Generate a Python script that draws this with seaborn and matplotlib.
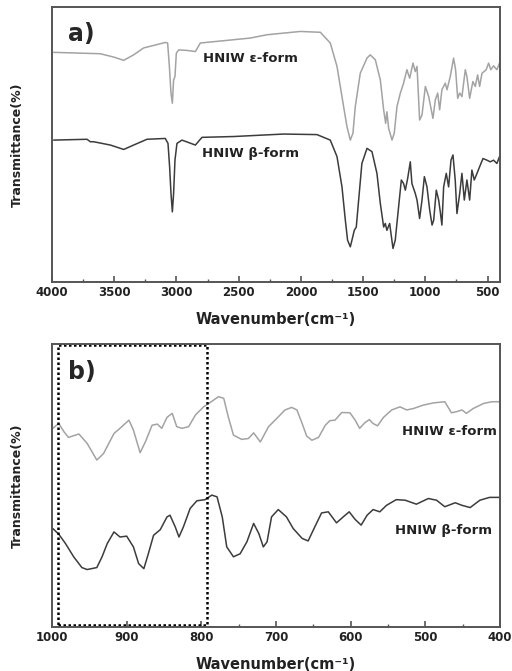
import numpy as np
import pandas as pd
import matplotlib
matplotlib.use("Agg")
import matplotlib.pyplot as plt
from matplotlib.ticker import MultipleLocator
import seaborn as sns

sns.set_style("ticks")
plt.rcParams['font.family'] = ['DejaVu Sans']

# panel a: full range spectra (wavenumber, transmittance a.u.)
wn_eps_a = [3987, 3612, 3505, 3424, 3344, 3264, 3090, 3071, 3057, 3044, 3033, 3023, 3012, 3001, 2982, 2915, 2848, 2808,
            2674, 2407, 2273, 2005, 1844, 1764, 1710, 1657, 1630, 1603, 1582, 1563, 1523, 1469, 1443, 1402, 1362, 1335,
            1319, 1309, 1295, 1268, 1250, 1228, 1201, 1175, 1148, 1126, 1099, 1081, 1067, 1046, 1027, 1000, 973, 939,
            920, 901, 885, 867, 840, 826, 800, 773, 757, 740, 724, 706, 679, 666, 644, 618, 599, 580, 564, 545, 511,
            492, 474, 452, 425, 404]
tr_eps_a = [83.5, 83.0, 81.8, 80.6, 82.6, 85.1, 87.1, 86.9, 78.4, 68.7, 65.0, 73.5, 74.7, 83.2, 84.4, 84.2, 83.8, 86.9,
            87.5, 88.7, 89.9, 91.1, 90.8, 86.9, 78.4, 63.8, 56.5, 51.6, 54.1, 63.8, 75.9, 81.4, 82.6, 80.8, 73.5, 62.6,
            57.7, 61.9, 55.9, 51.6, 54.1, 63.8, 68.7, 72.3, 77.2, 74.1, 79.6, 76.5, 78.4, 58.9, 60.7, 71.1, 67.4, 59.5,
            66.2, 68.7, 62.6, 69.9, 72.3, 69.9, 74.7, 81.4, 77.2, 66.8, 68.7, 67.4, 77.2, 74.7, 66.8, 72.9, 71.1, 75.3,
            71.1, 75.9, 77.2, 79.6, 77.2, 78.6, 77.2, 79.6]

wn_beta_a = [3987, 3719, 3692, 3665, 3531, 3424, 3344, 3237, 3090, 3068, 3055, 3044, 3033, 3023, 3012, 2996, 2956, 2902,
             2848, 2795, 2540, 2139, 1871, 1764, 1710, 1670, 1643, 1625, 1603, 1590, 1571, 1555, 1536, 1510, 1469, 1429,
             1389, 1362, 1335, 1322, 1309, 1287, 1260, 1242, 1215, 1193, 1175, 1161, 1142, 1121, 1108, 1081, 1067, 1046,
             1027, 1008, 987, 965, 946, 933, 912, 893, 880, 867, 853, 832, 813, 794, 778, 760, 746, 724, 706, 687, 666,
             644, 626, 607, 585, 564, 537, 505, 479, 452, 425, 404]
tr_beta_a = [51.6, 51.9, 51.0, 51.0, 49.8, 48.2, 49.8, 51.9, 52.2, 50.4, 41.9, 32.2, 25.5, 32.2, 44.3, 50.4, 51.6, 50.7,
             49.8, 52.6, 52.9, 53.8, 53.6, 51.6, 45.6, 34.6, 22.5, 15.2, 12.8, 15.2, 18.8, 20.0, 29.8, 43.1, 48.6, 47.4,
             39.5, 28.6, 20.0, 21.3, 18.8, 21.3, 12.2, 15.2, 27.3, 37.1, 35.8, 33.4, 37.7, 43.7, 35.8, 32.2, 29.8, 23.1,
             29.8, 38.3, 34.6, 26.1, 20.7, 22.5, 33.4, 29.8, 25.5, 20.7, 34.6, 39.5, 34.6, 44.3, 46.2, 37.1, 24.9, 32.2,
             39.5, 29.8, 37.1, 29.8, 40.7, 37.1, 39.5, 41.9, 44.9, 44.3, 43.7, 44.3, 43.1, 45.6]

# panel b: 1000-400 cm-1 region
wn_eps_b = [999, 991, 984, 978, 964, 953, 940, 931, 917, 909, 897, 891, 882, 875, 866, 859, 853, 846, 839, 833, 826,
            817, 808, 797, 790, 777, 770, 764, 757, 746, 737, 730, 721, 710, 699, 688, 679, 672, 665, 659, 652, 643,
            634, 628, 621, 612, 601, 594, 588, 581, 575, 570, 564, 556, 545, 534, 525, 516, 503, 489, 474, 465, 458,
            451, 445, 436, 422, 411, 401]
tr_eps_b = [70.2, 71.9, 69.0, 67.0, 68.2, 64.9, 59.0, 61.3, 68.4, 70.2, 73.1, 69.6, 61.6, 65.4, 71.3, 71.7, 70.2, 74.1,
            75.5, 70.8, 70.2, 70.8, 74.9, 77.8, 79.0, 81.4, 80.8, 74.3, 67.8, 66.3, 66.6, 68.6, 65.4, 70.8, 73.7, 76.7,
            77.6, 76.7, 71.9, 67.5, 66.0, 67.0, 71.3, 72.9, 73.1, 75.8, 75.7, 73.1, 70.2, 72.2, 73.3, 71.9, 71.1, 74.1,
            76.7, 77.8, 76.7, 77.2, 78.4, 79.2, 79.6, 75.7, 76.1, 76.7, 75.5, 77.2, 79.0, 79.6, 79.6]

wn_beta_b = [999, 991, 982, 971, 960, 953, 940, 933, 926, 917, 909, 900, 891, 884, 877, 871, 864, 855, 846, 842, 835,
             830, 824, 815, 806, 795, 786, 779, 772, 766, 757, 748, 739, 730, 723, 717, 712, 706, 697, 686, 677, 665,
             657, 648, 639, 630, 619, 610, 602, 594, 586, 578, 570, 561, 552, 539, 527, 512, 496, 485, 474, 460, 451,
             440, 427, 414, 401]
tr_beta_b = [34.8, 32.8, 29.5, 24.8, 21.0, 20.3, 21.0, 24.8, 29.5, 33.6, 31.8, 32.1, 28.3, 22.4, 20.6, 25.9, 32.4, 34.4,
             38.9, 39.5, 35.4, 31.8, 35.4, 41.9, 44.6, 45.0, 46.6, 46.0, 38.9, 28.3, 24.8, 25.9, 30.1, 36.6, 33.0, 28.3,
             30.1, 38.9, 41.5, 38.9, 34.8, 31.3, 30.4, 35.4, 40.3, 40.7, 36.8, 38.9, 40.7, 38.0, 36.0, 39.5, 41.5, 40.7,
             43.0, 45.0, 44.8, 43.4, 45.4, 44.8, 42.5, 43.9, 43.0, 42.2, 44.8, 45.8, 45.8]

label_eps = "HNIW ε-form"
label_beta = "HNIW β-form"
box_range = [992, 793]

c_eps = "#a3a3a3"
c_beta = "#3c3c3c"

fig = plt.figure(figsize=(5.12, 6.71), dpi=100)
ax_a = fig.add_axes([0.1016, 0.5797, 0.875, 0.4099])
ax_b = fig.add_axes([0.1016, 0.0656, 0.875, 0.4217])


def style_axis(ax, xlim, major, minor):
    ax.set_xlim(*xlim)
    ax.set_ylim(0, 100)
    ax.xaxis.set_major_locator(MultipleLocator(major))
    ax.xaxis.set_minor_locator(MultipleLocator(minor))
    ax.tick_params(axis='x', which='major', direction='in', length=4, width=1.2, colors='#555555',
                   labelcolor='#222222', labelsize=8.5, pad=3)
    ax.tick_params(axis='x', which='minor', direction='in', length=2, width=1.0, colors='#555555')
    ax.set_yticks([])
    for lab in ax.get_xticklabels():
        lab.set_fontweight('bold')
    for sp in ax.spines.values():
        sp.set_visible(True)
        sp.set_color('#555555')
        sp.set_linewidth(1.4)
    ax.set_xlabel("Wavenumber(cm⁻¹)", fontsize=10.5, fontweight='bold', color='#222222', labelpad=9)
    ax.set_ylabel("Transmittance(%)", fontsize=9, fontweight='bold', color='#222222', labelpad=20)


sns.lineplot(x=wn_eps_a, y=tr_eps_a, ax=ax_a, sort=False, color=c_eps, linewidth=1.1, estimator=None)
sns.lineplot(x=wn_beta_a, y=tr_beta_a, ax=ax_a, sort=False, color=c_beta, linewidth=1.1, estimator=None)
style_axis(ax_a, (4000, 400), 500, 250)
ax_a.text(3870, 90, "a)", fontsize=17, fontweight='bold', va='center', ha='left')
ax_a.text(2790, 81.4, label_eps, fontsize=9.5, fontweight='bold', va='center', ha='left', color='#222222')
ax_a.text(2795, 46.8, label_beta, fontsize=9.5, fontweight='bold', va='center', ha='left', color='#222222')

sns.lineplot(x=wn_eps_b, y=tr_eps_b, ax=ax_b, sort=False, color=c_eps, linewidth=1.1, estimator=None)
sns.lineplot(x=wn_beta_b, y=tr_beta_b, ax=ax_b, sort=False, color=c_beta, linewidth=1.1, estimator=None)
style_axis(ax_b, (1000, 400), 100, 50)
ax_b.text(978, 90, "b)", fontsize=17, fontweight='bold', va='center', ha='left')
ax_b.text(404, 69.0, label_eps, fontsize=9.5, fontweight='bold', va='center', ha='right', color='#222222')
ax_b.text(411, 34.2, label_beta, fontsize=9.5, fontweight='bold', va='center', ha='right', color='#222222')

# dotted box for the zoomed region
bx = [box_range[0], box_range[1], box_range[1], box_range[0], box_range[0]]
by = [0.6, 0.6, 99.6, 99.6, 0.6]
ax_b.plot(bx, by, color='black', linestyle=(0, (1, 1)), linewidth=1.8)

fig.savefig("out.png", dpi=100)
